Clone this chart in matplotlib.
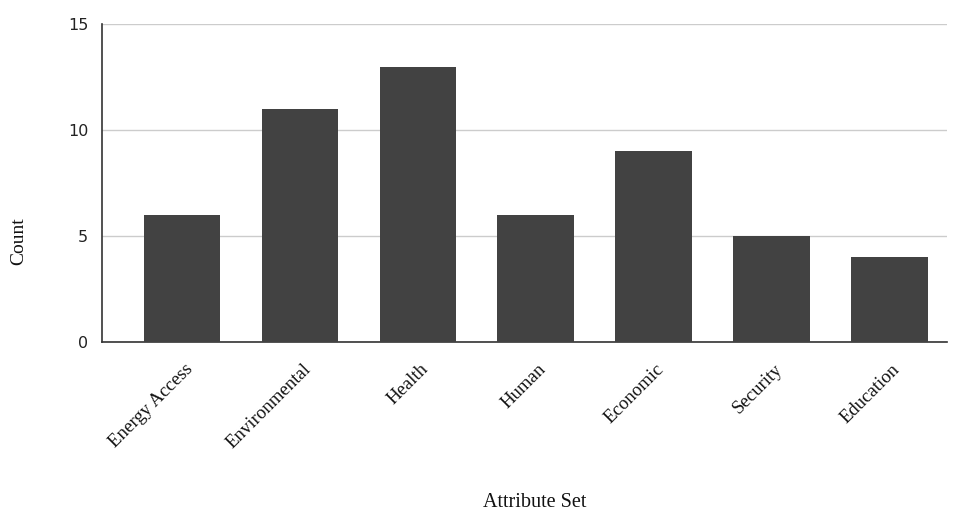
import matplotlib
matplotlib.use("Agg")
import matplotlib.pyplot as plt
import matplotlib.transforms as mtransforms

categories = ["Energy Access", "Environmental", "Health", "Human", "Economic", "Security", "Education"]
counts = [6, 11, 13, 6, 9, 5, 4]
y_ticks = [0, 5, 10, 15]

fig = plt.figure(figsize=(9.57, 5.15), dpi=100)
ax = fig.add_axes([0.1066, 0.336, 0.883, 0.617])

x = list(range(len(categories)))
ax.bar(x, counts, width=0.65, color="#424242", zorder=3)

ax.set_xlim(-0.68, 6.49)
ax.set_ylim(0, 15)
ax.set_yticks(y_ticks)
ax.set_yticklabels([str(t) for t in y_ticks], fontsize=11.5, family="DejaVu Sans", color="#222222")
ax.yaxis.grid(True, color="#cccccc", linewidth=1, zorder=0)
ax.tick_params(axis="both", length=0)
ax.tick_params(axis="y", pad=10)
ax.tick_params(axis="x", pad=18)

ax.set_xticks(x)
ax.set_xticklabels(categories, rotation=45, ha="right", va="center", rotation_mode="anchor",
                   fontsize=13.5, family="Liberation Serif", color="#111111")
# beschriftungen etwas nach rechts schieben
offset = mtransforms.ScaledTranslation(8 / 100, 0, fig.dpi_scale_trans)
for lbl in ax.get_xticklabels():
    lbl.set_transform(lbl.get_transform() + offset)

for s in ["top", "right"]:
    ax.spines[s].set_visible(False)
ax.spines["left"].set_color("#333333")
ax.spines["bottom"].set_color("#333333")
ax.spines["left"].set_linewidth(1.2)
ax.spines["bottom"].set_linewidth(1.2)

fig.text(0.0195, 0.532, "Count", rotation=90, ha="center", va="center",
         fontsize=14, family="Liberation Serif", color="#111111")
fig.text(0.559, 0.006, "Attribute Set", ha="center", va="bottom",
         fontsize=14.5, family="Liberation Serif", color="#111111")

fig.savefig("out.png", dpi=100)
